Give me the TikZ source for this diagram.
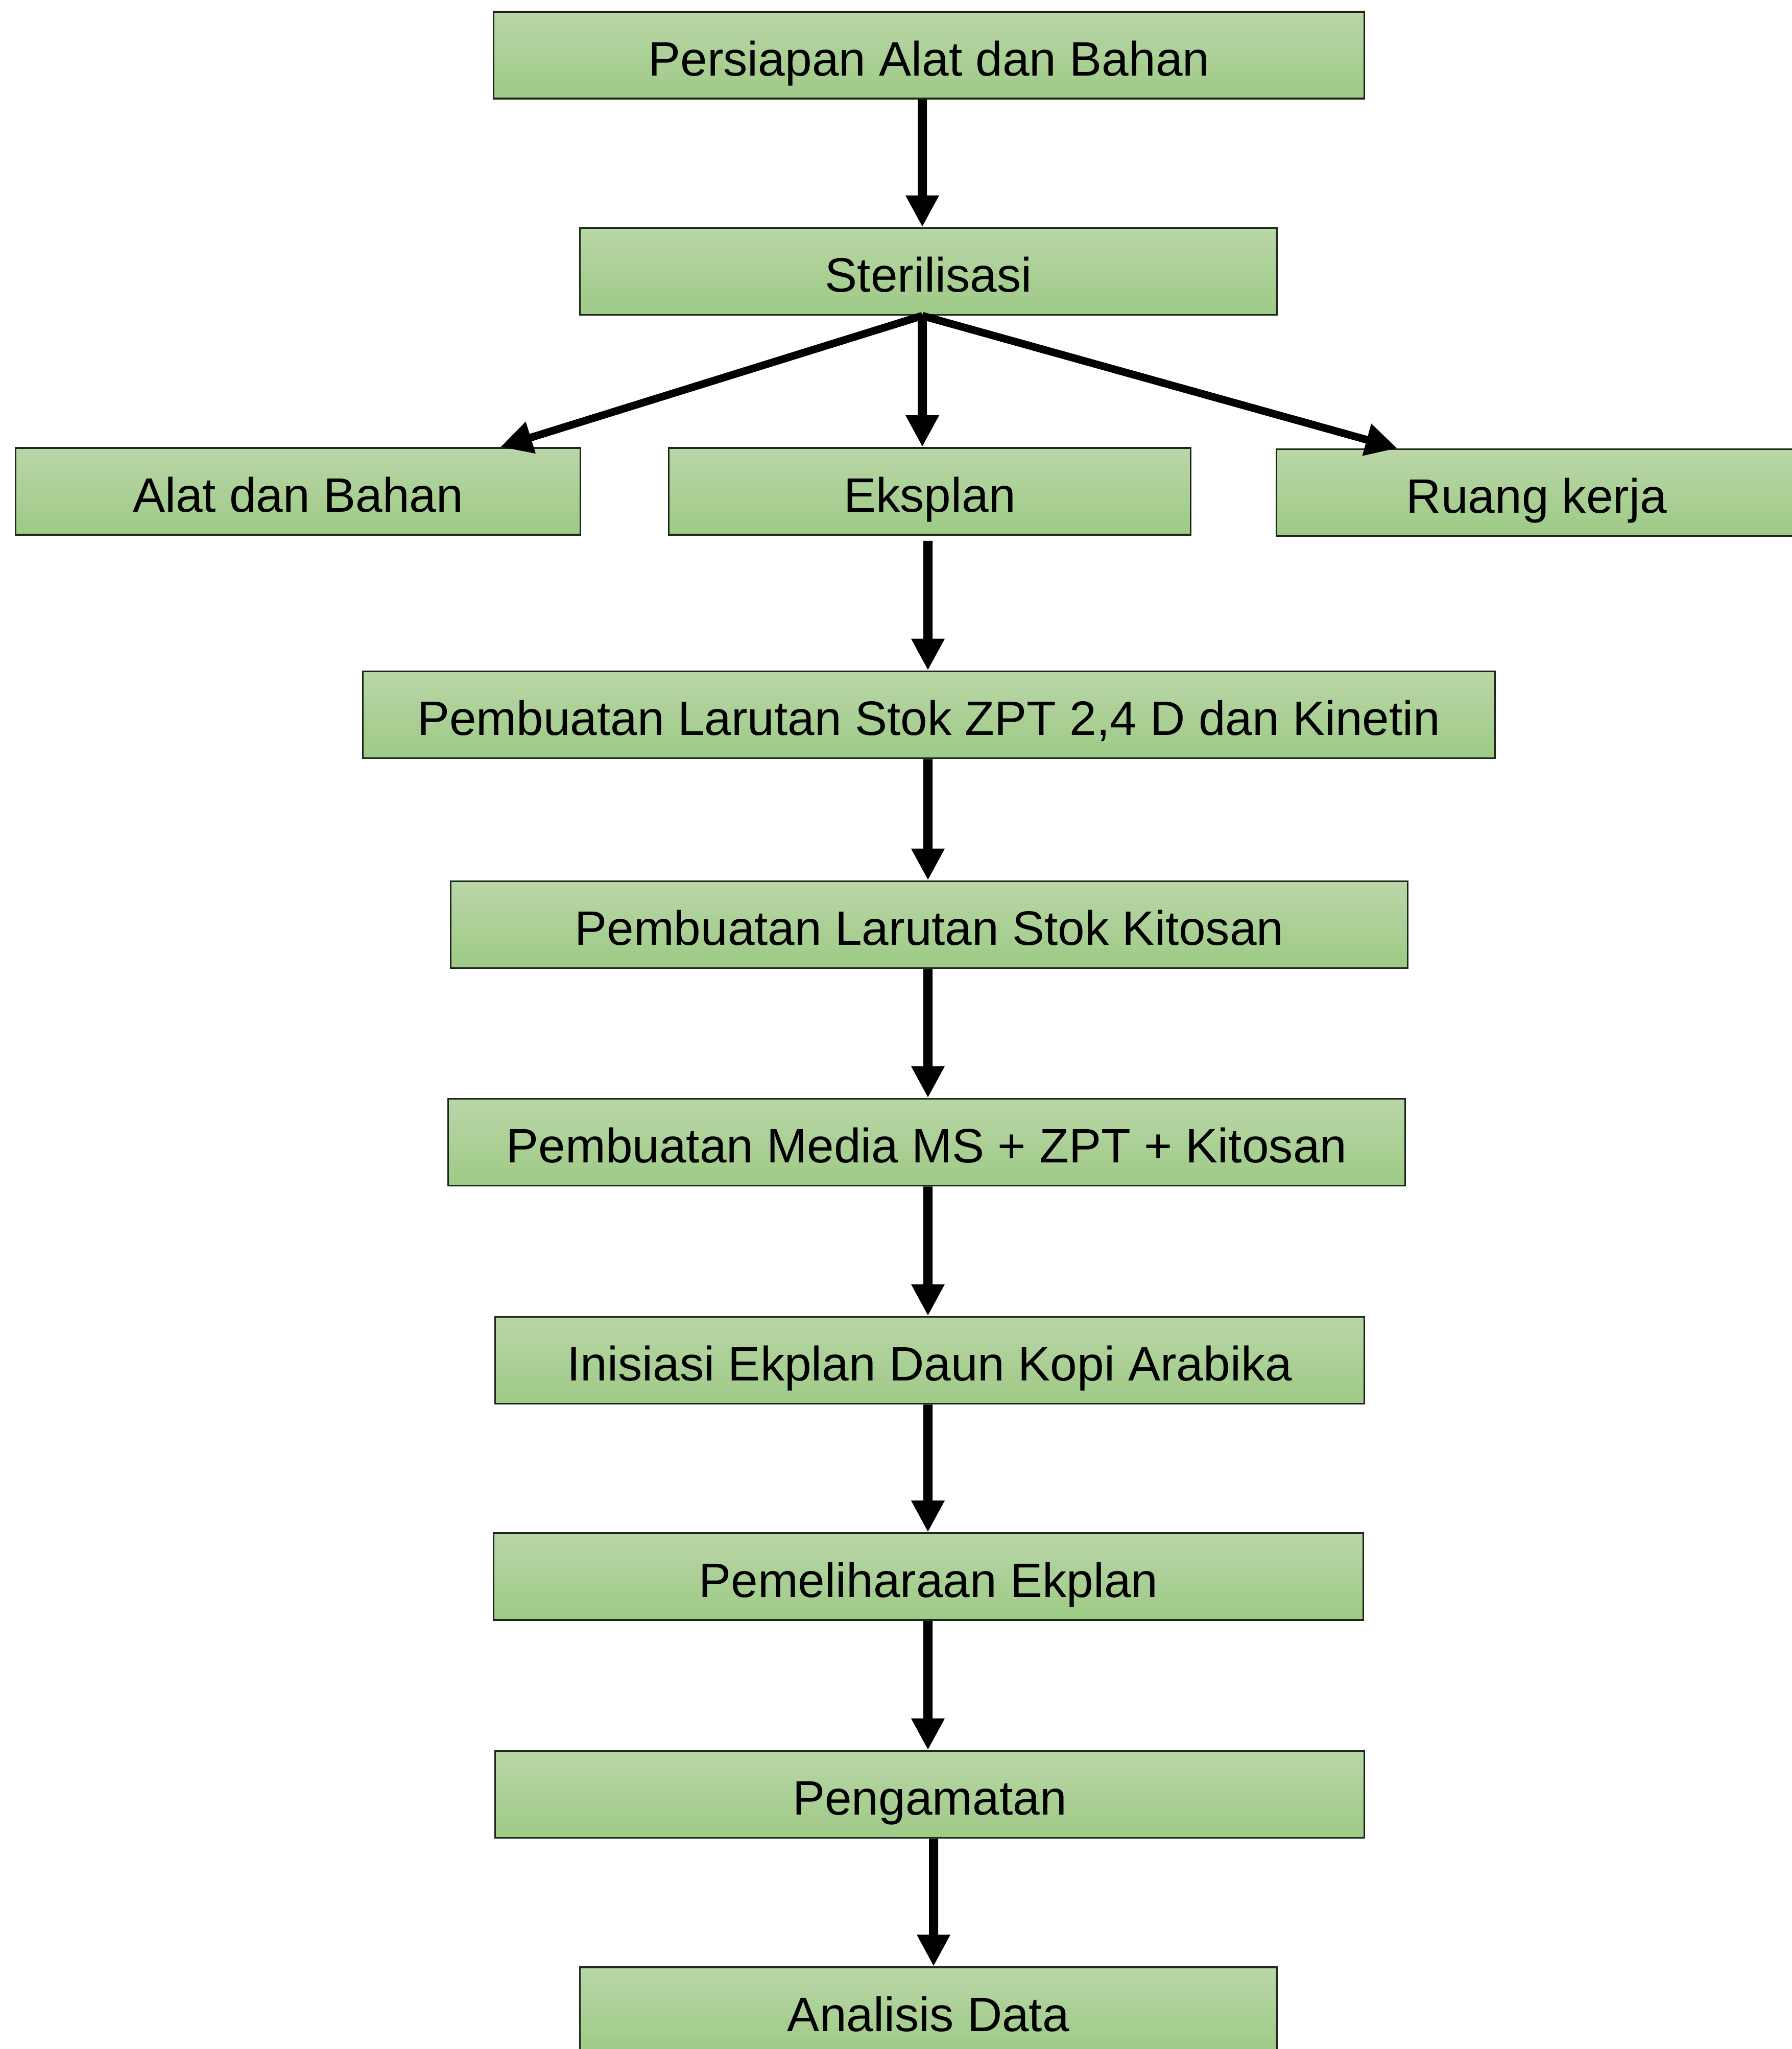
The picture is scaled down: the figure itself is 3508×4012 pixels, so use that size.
\documentclass[tikz,border=0pt]{standalone}
\usepackage{fontspec}
\setmainfont{Liberation Sans}
\usetikzlibrary{arrows.meta}
\definecolor{gtop}{RGB}{185,214,167}
\definecolor{gbot}{RGB}{158,202,134}
\definecolor{bline}{RGB}{30,40,25}
\begin{document}
\begin{tikzpicture}[x=0.01cm,y=-0.01cm,
  box/.style={draw=bline, line width=0.035cm, top color=gtop, bottom color=gbot,
    minimum height=1.70cm, text height=0.80cm, text depth=0cm, inner sep=0pt,
    font=\fontsize{26.9pt}{31pt}\selectfont},
  arr/.style={line width=0.18cm, -{Triangle[length=0.62cm, width=0.61cm]}},
  darr/.style={line width=0.15cm, -{Triangle[length=0.62cm, width=0.61cm]}}]
\fill[white] (0,0) rectangle (3508,4012);
\useasboundingbox (0,0) rectangle (3508,4012);

\node[box, minimum width=17.04cm] (p1) at (1819,108) {Persiapan Alat dan Bahan};
\node[box, minimum width=13.64cm] (p2) at (1818,531.5) {Sterilisasi};
\node[box, minimum width=11.05cm] (alat) at (583.5,962) {Alat dan Bahan};
\node[box, minimum width=10.21cm] (eks) at (1820.5,962) {Eksplan};
\node[box, minimum width=10.18cm] (ruang) at (3009,964.5) {Ruang kerja};
\node[box, minimum width=22.16cm] (zpt) at (1819,1399.5) {Pembuatan Larutan Stok ZPT 2,4 D dan Kinetin};
\node[box, minimum width=18.73cm] (kit) at (1819.5,1810.5) {Pembuatan Larutan Stok Kitosan};
\node[box, minimum width=18.73cm] (media) at (1814.5,2236.5) {Pembuatan Media MS + ZPT + Kitosan};
\node[box, minimum width=17.01cm] (inis) at (1820.5,2663.5) {Inisiasi Ekplan Daun Kopi Arabika};
\node[box, minimum width=17.02cm] (pem) at (1818,3087) {Pemeliharaan Ekplan};
\node[box, minimum width=17.01cm] (peng) at (1820.5,3513.5) {Pengamatan};
\node[box, minimum width=13.64cm] (anal) at (1818,3937) {Analisis Data};

\draw[arr] ([xshift=-0.13cm]p1.south) -- ([xshift=-0.12cm]p2.north);
\draw[arr] ([xshift=-0.12cm]p2.south) -- ([xshift=-0.145cm]eks.north);
\draw[darr] ([xshift=-0.12cm]p2.south) -- ([xshift=-1.58cm]alat.north east);
\draw[darr] ([xshift=-0.12cm]p2.south) -- ([xshift=2.38cm]ruang.north west);
\draw[arr] ([xshift=-0.035cm,yshift=-0.1cm]eks.south) -- ([xshift=-0.02cm]zpt.north);
\draw[arr] ([xshift=-0.02cm]zpt.south) -- ([xshift=-0.025cm]kit.north);
\draw[arr] ([xshift=-0.025cm]kit.south) -- ([xshift=0.025cm]media.north);
\draw[arr] ([xshift=0.025cm]media.south) -- ([xshift=-0.035cm]inis.north);
\draw[arr] ([xshift=-0.035cm]inis.south) -- ([xshift=-0.01cm]pem.north);
\draw[arr] ([xshift=-0.01cm]pem.south) -- ([xshift=-0.035cm]peng.north);
\draw[arr] ([xshift=0.075cm]peng.south) -- ([xshift=0.10cm]anal.north);
\end{tikzpicture}
\end{document}
